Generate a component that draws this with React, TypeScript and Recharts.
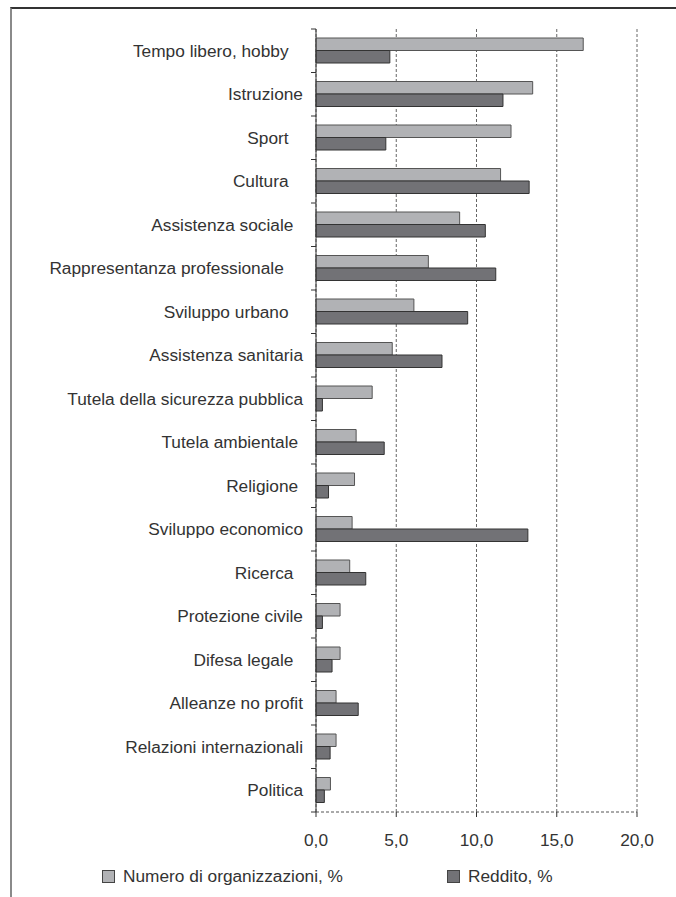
import React from 'react';
import { BarChart, Bar, XAxis, YAxis, CartesianGrid } from 'recharts';

// categories top to bottom; trailing spaces as in the source labels
const categories = [
  'Tempo libero, hobby   ',
  'Istruzione',
  'Sport   ',
  'Cultura   ',
  'Assistenza sociale  ',
  'Rappresentanza professionale    ',
  'Sviluppo urbano   ',
  'Assistenza sanitaria',
  'Tutela della sicurezza pubblica',
  'Tutela ambientale ',
  'Religione ',
  'Sviluppo economico',
  'Ricerca  ',
  'Protezione civile',
  'Difesa legale  ',
  'Alleanze no profit',
  'Relazioni internazionali',
  'Politica',
];

const organizzazioni = [16.65, 13.5, 12.15, 11.5, 8.95, 7.0, 6.1, 4.75, 3.5, 2.5, 2.4, 2.25, 2.1, 1.5, 1.5, 1.25, 1.25, 0.9];
const reddito = [4.6, 11.65, 4.35, 13.28, 10.55, 11.2, 9.45, 7.85, 0.4, 4.25, 0.78, 13.2, 3.1, 0.4, 1.0, 2.63, 0.88, 0.52];

const xTicks = [0, 5, 10, 15, 20];
const seriesNames = ['Numero di organizzazioni, %', 'Reddito, %'];

const data = categories.map((name, i) => ({
  name,
  org: organizzazioni[i],
  red: reddito[i],
}));

const W = 676;
const H = 897;
const MARGIN = { top: 29, right: 39, bottom: 55, left: 16 };
const X_AXIS_H = 30;
const PLOT_H = H - MARGIN.top - MARGIN.bottom - X_AXIS_H;
const BAND = PLOT_H / categories.length;
const TICK_GAP = 13;

const FONT = '"Liberation Sans", Arial, sans-serif';
const TEXT = '#333';
const LIGHT = '#b1b2b5';
const DARK = '#727276';

const CategoryTick = (props: any) => {
  const { x, y, payload, index } = props;
  const ax = x + TICK_GAP;
  const isLast = index === categories.length - 1;
  return (
    <g>
      <line x1={ax - 5} x2={ax} y1={y - BAND / 2} y2={y - BAND / 2} stroke="#333" />
      {isLast && <line x1={ax - 5} x2={ax} y1={y + BAND / 2} y2={y + BAND / 2} stroke="#333" />}
      <text
        x={x}
        y={y}
        dy="0.35em"
        textAnchor="end"
        fill={TEXT}
        fontSize={17.3}
        fontFamily={FONT}
        style={{ whiteSpace: 'pre' }}
      >
        {payload.value}
      </text>
    </g>
  );
};

const fmt = (v: number) => v.toFixed(1).replace('.', ',');

const LegendItem = ({ color, label, left }: { color: string; label: string; left: number }) => (
  <div style={{ position: 'absolute', left, top: 0, display: 'flex', alignItems: 'center', whiteSpace: 'nowrap' }}>
    <span style={{ width: 11, height: 11, background: color, border: '1px solid #444', marginRight: 8 }} />
    <span style={{ fontSize: 17.3, fontFamily: FONT, color: TEXT }}>{label}</span>
  </div>
);

export default function App() {
  return (
    <div style={{ position: 'absolute', left: 0, top: 0, width: W, height: H, background: '#fff', overflow: 'hidden' }}>
      <div
        style={{
          position: 'absolute',
          left: 10,
          top: 7,
          width: W - 10,
          height: H,
          borderTop: '2px solid #333',
          borderLeft: '2px solid #8a8a8a',
          boxSizing: 'border-box',
        }}
      />
      <div style={{ position: 'absolute', left: 0, top: 0 }}>
        <BarChart width={W} height={H} data={data} layout="vertical" margin={MARGIN} barGap={0}>
          <CartesianGrid horizontal={false} stroke="#666" strokeDasharray="3 2" />
          <XAxis
            type="number"
            domain={[0, 20]}
            ticks={xTicks}
            tickFormatter={fmt}
            height={X_AXIS_H}
            axisLine={{ stroke: '#555', strokeDasharray: '3 2' }}
            tickLine={{ stroke: '#333' }}
            tickSize={5}
            tickMargin={17}
            tick={{ fill: TEXT, fontSize: 17.3, fontFamily: FONT }}
          />
          <YAxis
            type="category"
            dataKey="name"
            width={300}
            axisLine={{ stroke: '#333' }}
            tickLine={false}
            tickSize={0}
            tickMargin={TICK_GAP}
            interval={0}
            tick={<CategoryTick />}
          />
          <Bar dataKey="org" name={seriesNames[0]} fill={LIGHT} stroke="#555" strokeWidth={1} barSize={12.5} isAnimationActive={false} />
          <Bar dataKey="red" name={seriesNames[1]} fill={DARK} stroke="#333" strokeWidth={1} barSize={12.5} isAnimationActive={false} />
        </BarChart>
      </div>
      <div style={{ position: 'absolute', left: 0, top: 866, width: W, height: 20 }}>
        <LegendItem color={LIGHT} label={seriesNames[0]} left={102} />
        <LegendItem color={DARK} label={seriesNames[1]} left={447} />
      </div>
    </div>
  );
}
